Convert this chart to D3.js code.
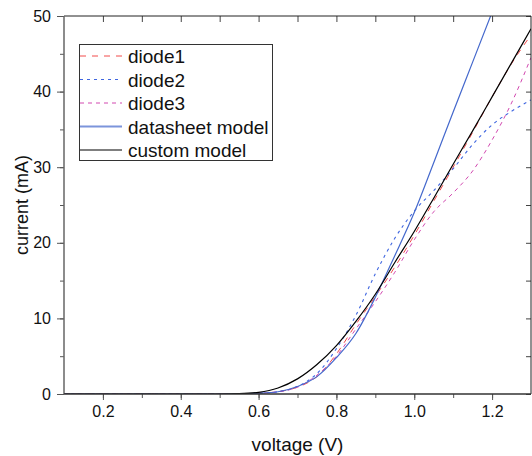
<!DOCTYPE html>
<html>
<head>
<meta charset="utf-8">
<script src="https://cdn.jsdelivr.net/npm/d3@7"></script>
<style>
  html, body { margin: 0; padding: 0; background: #fff; }
  svg { display: block; font-family: "Liberation Sans", Arial, sans-serif; }
</style>
</head>
<body>
<svg id="chart" width="532" height="456"></svg>
<script>
// voltage samples (V)
const voltage = [0.1, 0.2, 0.3, 0.4, 0.5, 0.55, 0.6, 0.65, 0.7, 0.75, 0.8, 0.85, 0.9, 0.95,
                 1.0, 1.05, 1.1, 1.15, 1.2, 1.25, 1.3];
// current (mA)
const diode1 = [0, 0, 0, 0, 0, 0.02, 0.1, 0.3, 0.9, 2.3, 5.3, 9.2, 12.9, 16.8,
                21.0, 25.5, 30.0, 34.6, 39.3, 43.7, 47.5];
const diode2 = [0, 0, 0, 0, 0, 0.02, 0.1, 0.3, 1.0, 2.7, 6.0, 10.4, 15.9, 20.6,
                24.2, 26.9, 29.8, 33.0, 35.6, 37.4, 38.9];
const diode3 = [0, 0, 0, 0, 0, 0.02, 0.1, 0.3, 0.9, 2.5, 5.0, 8.6, 12.2, 16.1,
                20.4, 24.1, 26.6, 29.5, 33.6, 38.5, 44.5];
const datasheetModel = [0, 0, 0, 0, 0, 0.02, 0.1, 0.3, 1.0, 2.3, 4.8, 8.0, 12.8, 18.3,
                        24.0, 30.6, 37.3, 43.9, 50.5, 57.1, 63.7];
const customModel = [0, 0, 0, 0, 0, 0.04, 0.22, 0.8, 2.0, 3.9, 6.4, 9.6, 13.2, 17.4,
                     21.5, 25.9, 30.4, 34.8, 39.3, 43.8, 48.3];

const xTicks = [0.2, 0.4, 0.6, 0.8, 1.0, 1.2];
const yTicks = [0, 10, 20, 30, 40, 50];

const series = [
  { name: "diode1", values: diode1, color: "#f24a4a", dash: "6,6", width: 1 },
  { name: "diode2", values: diode2, color: "#3f66e0", dash: "3,4", width: 1.1 },
  { name: "diode3", values: diode3, color: "#d248b0", dash: "4,4", width: 1 },
  { name: "datasheet model", values: datasheetModel, color: "#4468cc", dash: null, width: 1.2 },
  { name: "custom model", values: customModel, color: "#000", dash: null, width: 1.2 }
];

const margin = { top: 16, right: 1, bottom: 62, left: 64 };
const width = 532, height = 456;

const svg = d3.select("#chart");

const x = d3.scaleLinear().domain([0.1, 1.3]).range([margin.left, width - margin.right]);
const y = d3.scaleLinear().domain([0, 50]).range([height - margin.bottom, margin.top]);

svg.append("clipPath").attr("id", "plot-clip")
  .append("rect")
  .attr("x", x(0.1)).attr("y", y(50))
  .attr("width", x(1.3) - x(0.1)).attr("height", y(0) - y(50));

// minor ticks
const xMinor = d3.range(2, 13).map(d => d / 10);
const yMinor = d3.range(0, 51, 5);

// bottom axis
svg.append("g")
  .attr("transform", `translate(0,${y(0)})`)
  .call(d3.axisBottom(x).tickValues(xMinor).tickSize(4).tickFormat(""))
  .call(g => g.select(".domain").remove())
  .call(g => g.selectAll("line").attr("stroke", "#555"));
svg.append("g")
  .attr("transform", `translate(0,${y(0)})`)
  .call(d3.axisBottom(x).tickValues(xTicks).tickSize(6).tickPadding(6).tickFormat(d3.format(".1f")))
  .call(g => g.select(".domain").remove())
  .call(g => g.selectAll("line").attr("stroke", "#555"))
  .call(g => g.selectAll("text").attr("font-size", 16).attr("font-family", "Liberation Sans, Arial, sans-serif").attr("fill", "#111"));

// left axis
svg.append("g")
  .attr("transform", `translate(${x(0.1)},0)`)
  .call(d3.axisLeft(y).tickValues(yMinor).tickSize(4).tickFormat(""))
  .call(g => g.select(".domain").remove())
  .call(g => g.selectAll("line").attr("stroke", "#555"));
svg.append("g")
  .attr("transform", `translate(${x(0.1)},0)`)
  .call(d3.axisLeft(y).tickValues(yTicks).tickSize(7).tickPadding(6))
  .call(g => g.select(".domain").remove())
  .call(g => g.selectAll("line").attr("stroke", "#555"))
  .call(g => g.selectAll("text").attr("font-size", 16).attr("font-family", "Liberation Sans, Arial, sans-serif").attr("fill", "#111"));

// top and right (inward ticks)
svg.append("g")
  .attr("transform", `translate(0,${y(50)})`)
  .call(d3.axisBottom(x).tickValues(xMinor).tickSize(6).tickFormat(""))
  .call(g => g.select(".domain").remove())
  .call(g => g.selectAll("line").attr("stroke", "#444"));
svg.append("g")
  .attr("transform", `translate(${x(1.3)},0)`)
  .call(d3.axisLeft(y).tickValues(yMinor).tickSize(5).tickFormat(""))
  .call(g => g.select(".domain").remove())
  .call(g => g.selectAll("line").attr("stroke", "#444"));

// curves
const line = d3.line()
  .x((d, i) => x(voltage[i]))
  .y(d => y(d))
  .curve(d3.curveMonotoneX);

const plot = svg.append("g").attr("clip-path", "url(#plot-clip)");
plot.selectAll("path")
  .data(series)
  .enter()
  .append("path")
  .attr("d", d => line(d.values))
  .attr("fill", "none")
  .attr("stroke", d => d.color)
  .attr("stroke-width", d => d.width)
  .attr("stroke-dasharray", d => d.dash);

// frame
svg.append("line").attr("x1", x(0.1)).attr("x2", x(1.3)).attr("y1", y(50)).attr("y2", y(50))
  .attr("stroke", "#222").attr("stroke-width", 1);
svg.append("line").attr("x1", x(1.3)).attr("x2", x(1.3)).attr("y1", y(50)).attr("y2", y(0))
  .attr("stroke", "#222").attr("stroke-width", 1);
svg.append("line").attr("x1", x(0.1)).attr("x2", x(0.1)).attr("y1", y(50)).attr("y2", y(0))
  .attr("stroke", "#666").attr("stroke-width", 1.5);
svg.append("line").attr("x1", x(0.1)).attr("x2", x(1.3)).attr("y1", y(0)).attr("y2", y(0))
  .attr("stroke", "#333").attr("stroke-width", 1.5);

// legend
const legend = svg.append("g");
legend.append("rect")
  .attr("x", 79.5).attr("y", 44.5).attr("width", 193).attr("height", 116)
  .attr("fill", "#fff").attr("stroke", "#333").attr("stroke-width", 1);
series.forEach((s, i) => {
  const cy = 56 + i * 23.5;
  legend.append("line")
    .attr("x1", 80).attr("x2", 122).attr("y1", cy).attr("y2", cy)
    .attr("stroke", s.color).attr("stroke-width", s.name === "datasheet model" ? 2 : s.width)
    .attr("stroke-opacity", s.name === "datasheet model" ? 0.7 : 1)
    .attr("stroke-dasharray", s.dash);
  legend.append("text")
    .attr("x", 128).attr("y", cy + 7)
    .attr("font-size", 19).attr("fill", "#111")
    .text(s.name);
});

// axis titles
svg.append("text")
  .attr("x", (x(0.1) + x(1.3)) / 2).attr("y", 451)
  .attr("text-anchor", "middle").attr("font-size", 19).attr("fill", "#111")
  .text("voltage (V)");
svg.append("text")
  .attr("transform", `translate(28,${(y(0) + y(50)) / 2}) rotate(-90)`)
  .attr("text-anchor", "middle").attr("font-size", 18).attr("fill", "#111")
  .text("current (mA)");
</script>
</body>
</html>
